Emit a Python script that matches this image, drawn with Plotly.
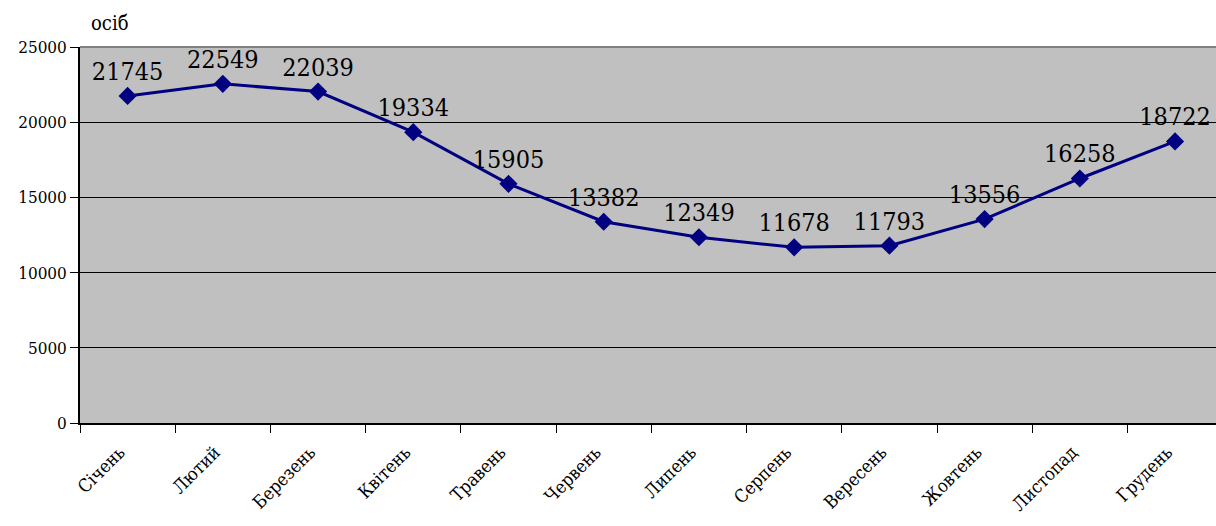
import plotly.graph_objects as go

months = ["Січень", "Лютий", "Березень", "Квітень", "Травень", "Червень",
          "Липень", "Серпень", "Вересень", "Жовтень", "Листопад", "Грудень"]
values = [21745, 22549, 22039, 19334, 15905, 13382, 12349, 11678, 11793, 13556, 16258, 18722]
y_ticks = [0, 5000, 10000, 15000, 20000, 25000]
unit_label = "осіб"

font = "DejaVu Serif Condensed"

fig = go.Figure()
fig.add_trace(go.Scatter(
    x=months, y=values,
    mode="lines+markers+text",
    line=dict(color="#000080", width=3),
    marker=dict(symbol="diamond", size=14, color="#000080"),
    text=[str(v) for v in values],
    textposition="top center",
    textfont=dict(family=font, size=25, color="black"),
    cliponaxis=False,
    hoverinfo="skip",
))

fig.update_layout(
    width=1216, height=526,
    margin=dict(l=80, r=0, t=47, b=103, autoexpand=False),
    paper_bgcolor="white",
    plot_bgcolor="#C0C0C0",
    showlegend=False,
    font=dict(family=font, color="black"),
    xaxis=dict(
        type="category",
        range=[-0.5, 11.43],
        tickangle=-45,
        tickfont=dict(family=font, size=18, color="black"),
        ticklabelstandoff=10,
        ticklabelshift=-8,
        ticks="outside", ticklen=8, tickcolor="black", tickwidth=1,
        tickson="boundaries",
        showgrid=False,
        showline=True, linecolor="black", linewidth=1.5,
        zeroline=False,
        automargin=False,
        fixedrange=True,
    ),
    yaxis=dict(
        range=[0, 25000],
        tickmode="array",
        tickvals=y_ticks,
        ticktext=[str(t) for t in y_ticks],
        tickfont=dict(family=font, size=17, color="black"),
        ticks="outside", ticklen=8, tickcolor="black", tickwidth=1,
        showgrid=True, gridcolor="black", gridwidth=1,
        showline=True, linecolor="black", linewidth=1.5,
        zeroline=False,
        automargin=False,
        fixedrange=True,
    ),
    shapes=[dict(type="line", xref="paper", yref="paper", x0=0, x1=1, y0=1, y1=1,
                 line=dict(color="#808080", width=2))],
    annotations=[dict(text=unit_label, xref="paper", yref="paper", x=0.008, y=1.0,
                      yshift=10, xanchor="left", yanchor="bottom", showarrow=False,
                      font=dict(family=font, size=20, color="black"))],
)

fig.write_html("out.html", config={"displayModeBar": False},
               post_script="document.body.style.margin='0';")
